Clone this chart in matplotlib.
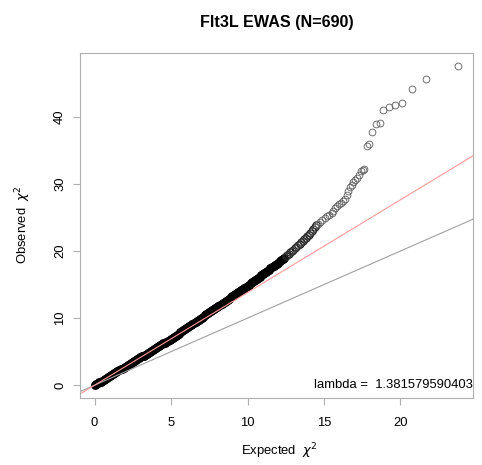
import matplotlib
matplotlib.use("Agg")
import matplotlib.pyplot as plt
import numpy as np

plt.rcParams['font.family'] = ['Liberation Sans', 'DejaVu Sans']
plt.rcParams['mathtext.fontset'] = 'dejavusans'

title = "Flt3L EWAS (N=690)"
lam = 1.381579590403

# expected / observed chi-square quantiles
expected = [
    0.0, 0.1, 0.2, 0.3, 0.4, 0.5, 0.6, 0.7, 0.8, 0.9,
    1.0, 1.1, 1.2, 1.3, 1.4, 1.5, 1.6, 1.7, 1.8, 1.9,
    2.0, 2.1, 2.2, 2.3, 2.4, 2.5, 2.6, 2.7, 2.8, 2.9,
    3.0, 3.1, 3.2, 3.3, 3.4, 3.5, 3.6, 3.7, 3.8, 3.9,
    4.0, 4.1, 4.2, 4.3, 4.4, 4.5, 4.6, 4.7, 4.8, 4.9,
    5.0, 5.1, 5.2, 5.3, 5.4, 5.5, 5.6, 5.7, 5.8, 5.9,
    6.0, 6.1, 6.2, 6.3, 6.4, 6.5, 6.6, 6.7, 6.8, 6.9,
    7.0, 7.1, 7.2, 7.3, 7.4, 7.5, 7.6, 7.7, 7.8, 7.9,
    8.0, 8.1, 8.2, 8.3, 8.4, 8.5, 8.6, 8.7, 8.8, 8.9,
    9.0, 9.1, 9.2, 9.3, 9.4, 9.5, 9.6, 9.7, 9.8, 9.9,
    10.0, 10.1, 10.2, 10.3, 10.4, 10.5, 10.6, 10.7, 10.8, 10.9,
    11.0, 11.1, 11.2, 11.3, 11.4, 11.5, 11.6, 11.7, 11.8, 11.9,
    12.0, 12.1, 12.2, 12.3, 12.4, 12.5, 12.6, 12.7, 12.8, 12.9,
    13.0, 13.1, 13.2, 13.3, 13.4, 13.5, 13.6, 13.7, 13.8, 13.9,
    14.0, 14.1, 14.2, 14.3, 14.4, 14.5,
    14.6, 14.75, 14.9, 15.05, 15.2, 15.35, 15.5, 15.62, 15.75, 15.88,
    16.0, 16.12, 16.26, 16.38, 16.48, 16.58, 16.68, 16.8, 16.92, 17.05,
    17.16, 17.27, 17.4, 17.52, 17.64,
    17.79, 17.94, 18.16, 18.40, 18.64, 18.88, 19.23, 19.63, 20.08, 20.74,
    21.70, 23.79,
]
observed = [
    0.00, 0.14, 0.28, 0.41, 0.55, 0.69, 0.83, 0.97, 1.11, 1.24,
    1.38, 1.52, 1.66, 1.80, 1.93, 2.07, 2.21, 2.35, 2.49, 2.63,
    2.76, 2.90, 3.04, 3.18, 3.32, 3.45, 3.59, 3.73, 3.87, 4.01,
    4.14, 4.28, 4.42, 4.56, 4.70, 4.84, 4.97, 5.11, 5.25, 5.39,
    5.53, 5.66, 5.80, 5.94, 6.08, 6.22, 6.36, 6.49, 6.63, 6.77,
    6.91, 7.07, 7.22, 7.38, 7.54, 7.70, 7.86, 8.02, 8.17, 8.33,
    8.49, 8.65, 8.81, 8.96, 9.12, 9.28, 9.44, 9.60, 9.75, 9.91,
    10.07, 10.23, 10.39, 10.55, 10.70, 10.86, 11.02, 11.18, 11.34, 11.49,
    11.65, 11.81, 11.97, 12.13, 12.29, 12.44, 12.60, 12.76, 12.92, 13.08,
    13.23, 13.39, 13.55, 13.71, 13.87, 14.03, 14.18, 14.34, 14.50, 14.66,
    14.82, 14.99, 15.16, 15.34, 15.51, 15.68, 15.85, 16.03, 16.20, 16.38,
    16.55, 16.72, 16.89, 17.07, 17.24, 17.42, 17.59, 17.76, 17.93, 18.11,
    18.28, 18.47, 18.66, 18.84, 19.03, 19.22, 19.41, 19.60, 19.78, 19.97,
    20.16, 20.39, 20.62, 20.85, 21.07, 21.30, 21.53, 21.76, 21.99, 22.21,
    22.44, 22.72, 23.00, 23.28, 23.56, 23.83,
    24.05, 24.3, 24.6, 24.9, 25.15, 25.4, 25.65, 26.0, 26.35, 26.7,
    27.0, 27.2, 27.5, 27.8, 28.3, 28.9, 29.5, 29.9, 30.3, 30.6,
    30.9, 31.3, 31.85, 32.0, 32.15,
    35.6, 35.9, 37.7, 38.9, 39.0, 41.0, 41.5, 41.7, 42.0, 44.1,
    45.6, 47.6,
]
xticks = [0, 5, 10, 15, 20]
yticks = [0, 10, 20, 30, 40]

# in the original thousands of rings overlap into a solid band below this
solid_until = 12.4
dark_until = 14.5

W, H = 482, 465
fig = plt.figure(figsize=(W / 100, H / 100), dpi=100)
ax = fig.add_axes([80 / W, (H - 398) / H, (473 - 80) / W, (398 - 53) / H])

ex = np.array(expected)
ob = np.array(observed)
dense = ex <= solid_until
mid = (ex > solid_until) & (ex <= dark_until)
tail = ex > dark_until
ax.plot(ex[dense], ob[dense], 'o', ms=5.8, mfc='black', mec='black', mew=0.6)
ax.plot(ex[mid], ob[mid], 'o', ms=5.2, mfc='none', mec='#2a2a2a', mew=0.8)
ax.plot(ex[tail], ob[tail], 'o', ms=4.9, mfc='none', mec='#5a5a5a', mew=0.6)
ax.axline((0, 0), slope=1, color='#a0a0a0', lw=0.8)
ax.axline((0, 0), slope=lam, color='#ff9a9a', lw=0.8)

# R style 4% padding
xr = ex.max() - ex.min()
yr = ob.max() - ob.min()
ax.set_xlim(ex.min() - 0.04 * xr, ex.max() + 0.04 * xr)
ax.set_ylim(ob.min() - 0.04 * yr, ob.max() + 0.04 * yr)

ax.set_xticks(xticks)
ax.set_yticks(yticks)
for s in ax.spines.values():
    s.set_color('#b0b0b0')
    s.set_linewidth(0.8)
ax.tick_params(axis='both', colors='#b0b0b0', labelcolor='black', length=5, width=0.8, labelsize=9.4)
ax.tick_params(axis='x', pad=9)
ax.tick_params(axis='y', pad=5, labelrotation=90)
for lab in ax.get_yticklabels():
    lab.set_va('center')

ax.text(0.999, 0.0, "lambda =  " + str(lam), transform=ax.get_yaxis_transform(),
        ha='right', va='center', fontsize=9.4)

fig.text(276.5 / W, 1 - 22 / H, title, ha='center', va='center', fontsize=11.6, fontweight='bold')
fig.text(279 / W, 1 - 451 / H, r'Expected  $\chi^2$', ha='center', va='center', fontsize=9.4)
fig.text(23 / W, 1 - 225 / H, r'Observed  $\chi^2$', ha='center', va='center', fontsize=9.4, rotation=90)

fig.savefig("out.png", dpi=100)
